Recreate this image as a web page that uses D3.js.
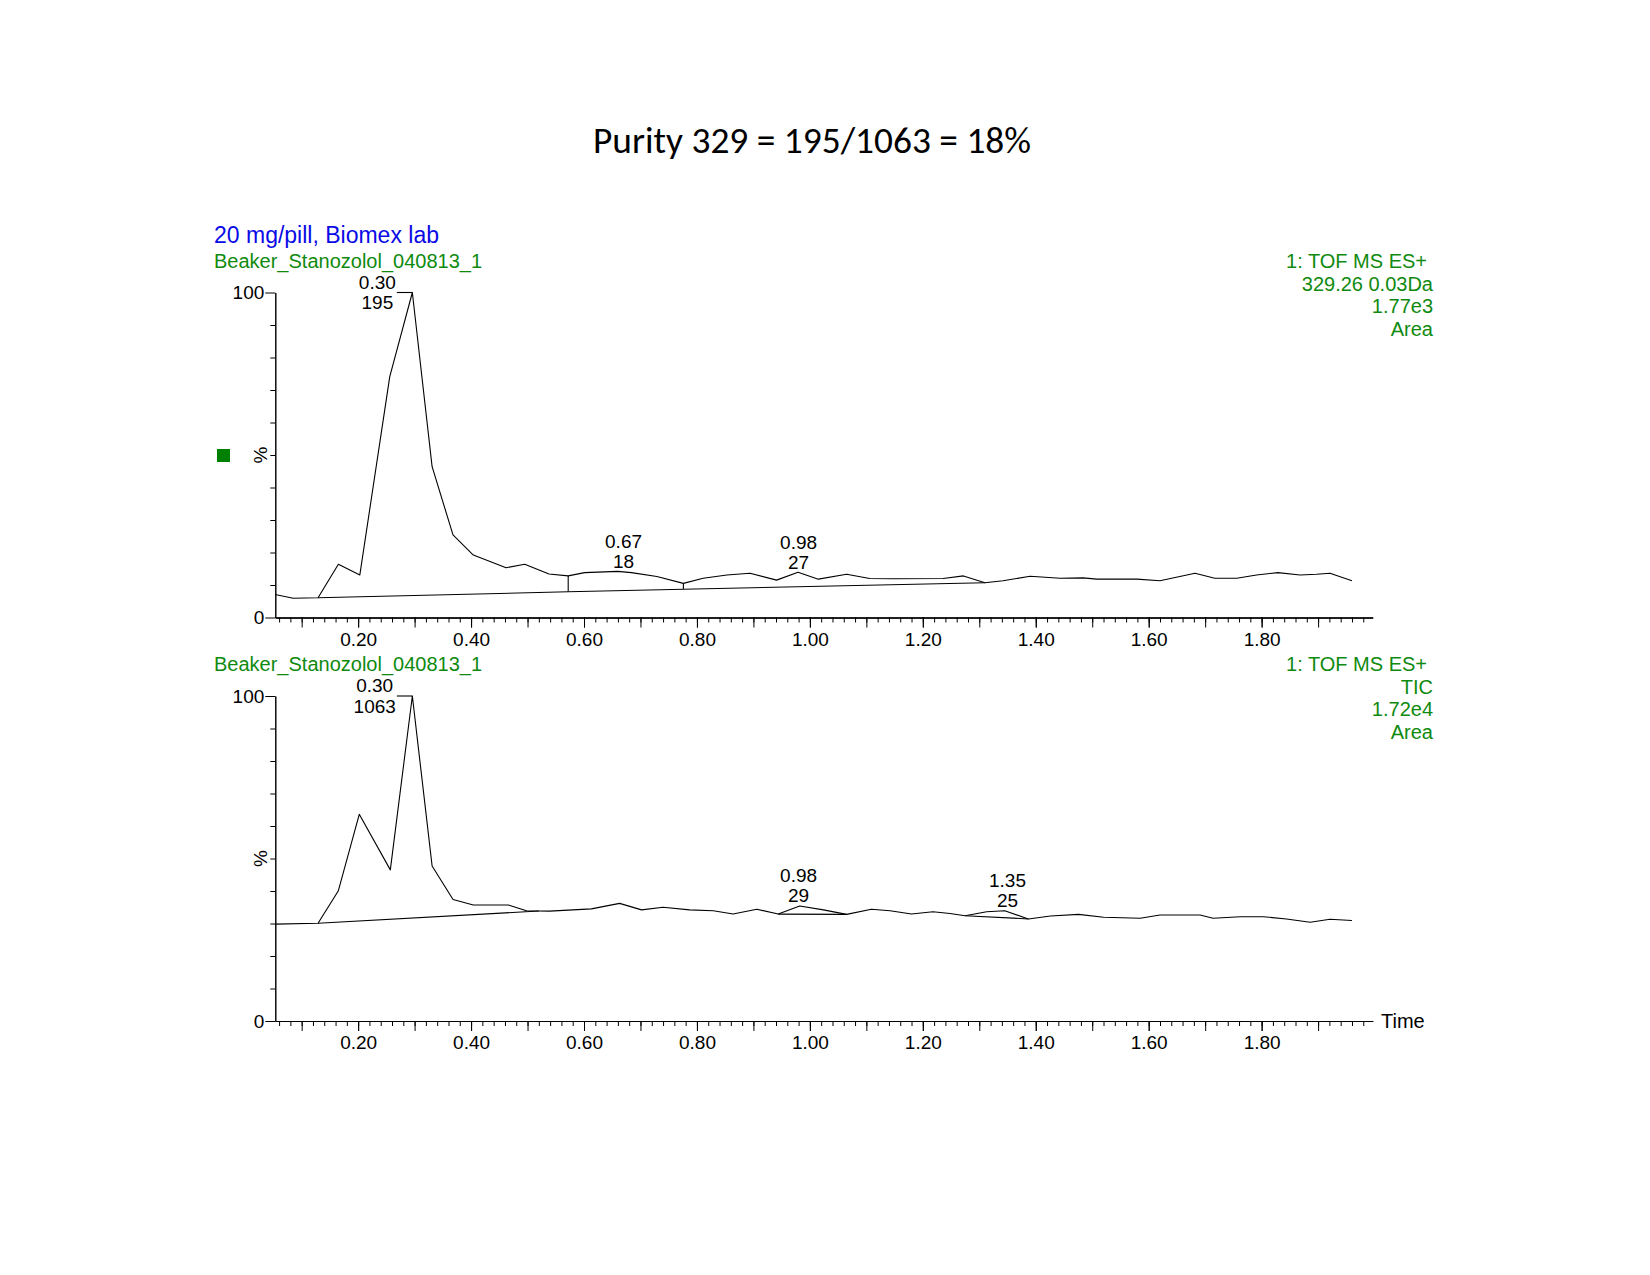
<!DOCTYPE html>
<html><head><meta charset="utf-8">
<script src="https://cdn.jsdelivr.net/npm/d3@7"></script>
<style>body{margin:0;background:#fff}</style>
</head><body>
<svg id="chart" width="1650" height="1275"></svg>
<script>
// ---------------- data ----------------
const titleText = "Purity 329 = 195/1063 = 18%";
const sampleLabel = "20 mg/pill, Biomex lab";
const fileLabel = "Beaker_Stanozolol_040813_1";
const topInfo = ["1: TOF MS ES+", "329.26 0.03Da", "1.77e3", "Area"];
const bottomInfo = ["1: TOF MS ES+", "TIC", "1.72e4", "Area"];
const xAxisTitle = "Time";
const yAxisTitle = "%";
const xTickLabels = ["0.20","0.40","0.60","0.80","1.00","1.20","1.40","1.60","1.80"];
const yTickLabels = ["0","100"];

// upper trace: 329.26 extracted ion chromatogram (% of max)
const topTimes  = [0.053,0.085,0.129,0.165,0.203,0.256,0.296,0.331,0.368,0.404,0.462,0.495,0.538,0.572,0.601,0.660,0.684,0.729,0.776,0.811,0.853,0.894,0.941,0.979,1.015,1.065,1.106,1.148,1.236,1.272,1.310,1.342,1.390,1.443,1.484,1.508,1.579,1.620,1.682,1.717,1.756,1.791,1.829,1.868,1.897,1.921,1.960];
const topValues = [7.1,5.9,6.1,16.4,13.1,74.1,100,46.4,25.4,19.2,15.3,16.4,13.4,12.8,13.8,14.2,13.8,12.6,10.5,12.1,13.1,13.6,11.5,13.9,11.8,13.3,12.0,11.9,12.0,12.8,10.7,11.3,12.7,12.1,12.2,11.8,11.8,11.3,13.6,12.1,12.1,13.1,13.8,13.1,13.3,13.6,11.3];

// lower trace: TIC (% of max)
const bottomTimes  = [0.053,0.129,0.165,0.202,0.257,0.296,0.331,0.368,0.404,0.466,0.498,0.539,0.613,0.663,0.702,0.740,0.787,0.829,0.864,0.906,0.944,0.982,1.024,1.065,1.109,1.142,1.180,1.218,1.248,1.275,1.313,1.345,1.387,1.426,1.476,1.520,1.585,1.620,1.691,1.714,1.762,1.803,1.844,1.886,1.921,1.960];
const bottomValues = [29.8,30.1,40.1,63.6,46.5,100,47.7,37.4,35.7,35.7,33.9,33.8,34.5,36.2,34.2,35.0,34.2,33.9,32.9,34.4,32.9,35.4,34.2,32.8,34.4,33.9,32.9,33.6,33.1,32.4,33.6,33.9,31.4,32.3,32.8,31.9,31.6,32.6,32.6,31.6,32.1,32.1,31.4,30.4,31.3,30.9];

// integration baselines [startTime, startValue, endTime, endValue]
const topBaselines = [[0.129,6.1,0.572,7.9],[0.572,7.9,0.776,8.7],[0.776,8.7,1.310,10.7]];
const topDropTimes = [0.572, 0.776];
const bottomBaselines = [[0.129,30.1,0.52,33.85],[0.944,32.9,1.065,32.8],[1.275,32.4,1.387,31.4]];

// peak annotations
const topPeakTimes = ["0.30","0.67","0.98"];
const topPeakAreas = ["195","18","27"];
const bottomPeakTimes = ["0.30","0.98","1.35"];
const bottomPeakAreas = ["1063","29","25"];

// ---------------- drawing ----------------
const svg = d3.select("#chart");
svg.append("rect").attr("width",1650).attr("height",1275).attr("fill","#fff");
const FONT = "'Liberation Sans', Arial, Helvetica, sans-serif";
const GREEN = "#0f8a0f";

svg.append("text").attr("x",812).attr("y",153)
  .attr("text-anchor","middle")
  .attr("font-family","Carlito, Lato, 'Open Sans', sans-serif")
  .attr("font-size",36).attr("fill","#000")
  .attr("textLength",438).attr("lengthAdjust","spacingAndGlyphs")
  .text(titleText);

svg.append("text").attr("x",214).attr("y",243)
  .attr("font-family",FONT).attr("font-size",23).attr("fill","#0a0ae6")
  .text(sampleLabel);

const x = d3.scaleLinear().domain([0.0533, 1.9967]).range([275.3, 1372.7]);

const minorX = d3.range(3, 100).map(i => +(i*0.02).toFixed(2));
const majorX = d3.range(1, 20).map(i => +(i*0.1).toFixed(1));
const labelX = xTickLabels.map(Number);

function drawPanel(p) {
  const y = d3.scaleLinear().domain([0,100]).range([p.y0, p.y100]);
  const g = svg.append("g");

  // file label & info block
  g.append("text").attr("x",214).attr("y",p.labelY)
    .attr("font-family",FONT).attr("font-size",20).attr("fill",GREEN)
    .text(fileLabel);
  p.info.forEach((s,i) => {
    g.append("text").attr("x", i===0 ? 1427 : 1433).attr("y", p.labelY + i*22.5)
      .attr("text-anchor","end")
      .attr("font-family",FONT).attr("font-size",20).attr("fill",GREEN)
      .text(s);
  });

  // x axes
  const axMinor = d3.axisBottom(x).tickValues(minorX).tickSize(5).tickSizeOuter(0).tickFormat("");
  const axMajor = d3.axisBottom(x).tickValues(majorX).tickSize(10).tickSizeOuter(0).tickFormat("");
  const axLab = d3.axisBottom(x).tickValues(labelX).tickSize(10).tickSizeOuter(0).tickPadding(5)
     .tickFormat((d,i) => xTickLabels[i]);
  [axMinor, axMajor, axLab].forEach(ax => {
    const a = g.append("g").attr("transform",`translate(0,${p.y0})`).call(ax);
    a.select(".domain").attr("stroke","#000");
    a.selectAll("line").attr("stroke","#000").attr("stroke-width",1);
    a.selectAll("text").attr("font-family",FONT).attr("font-size",19).attr("fill","#000");
  });

  // y axes
  const ayMinor = d3.axisLeft(y).tickValues(d3.range(10,100,10)).tickSize(5).tickSizeOuter(0).tickFormat("");
  const ayMajor = d3.axisLeft(y).tickValues(yTickLabels.map(Number)).tickSize(10).tickSizeOuter(0).tickPadding(1)
     .tickFormat((d,i) => yTickLabels[i]);
  [ayMinor, ayMajor].forEach(ax => {
    const a = g.append("g").attr("transform",`translate(${x.range()[0]},0)`).call(ax);
    a.select(".domain").attr("stroke","#000");
    a.selectAll("line").attr("stroke","#000").attr("stroke-width",1);
    a.selectAll("text").attr("font-family",FONT).attr("font-size",19).attr("fill","#000");
  });

  g.append("text")
    .attr("transform",`translate(260.5,${y(50)}) rotate(-90)`)
    .attr("text-anchor","middle").attr("dominant-baseline","central")
    .attr("font-family",FONT).attr("font-size",19).attr("fill","#000")
    .text(yAxisTitle);

  // trace
  const pts = p.times.map((t,i) => [t, p.values[i]]);
  const line = d3.line().x(d => x(d[0])).y(d => y(d[1]));
  g.append("path").datum(pts).attr("d",line)
    .attr("fill","none").attr("stroke","#000").attr("stroke-width",1.1).attr("stroke-linejoin","round");

  // baselines
  p.baselines.forEach(b => {
    g.append("path").datum([[b[0],b[1]],[b[2],b[3]]]).attr("d",line)
      .attr("fill","none").attr("stroke","#000").attr("stroke-width",1.1);
  });
  // drop lines
  (p.drops || []).forEach(t => {
    const i = p.times.findIndex(v => Math.abs(v - t) < 1e-6);
    const b = p.baselines.find(bb => Math.abs(bb[2]-t) < 1e-6);
    g.append("path").datum([[t, p.values[i]],[t, b[3]]]).attr("d",line)
      .attr("fill","none").attr("stroke","#000").attr("stroke-width",1.1);
  });

  // peak labels
  p.peakTimes.forEach((rt,k) => {
    const t = +rt;
    const area = p.peakAreas[k];
    const idxMax = d3.maxIndex(p.values);
    if (p.values[idxMax] === 100 && Math.abs(p.times[idxMax]-t) < 0.02) {
      // apex label with leader line
      const ax = x(p.times[idxMax]);
      const right = ax - 16.5;
      const t1 = g.append("text").attr("font-family",FONT).attr("font-size",19).attr("text-anchor","middle").text(rt);
      const t2 = g.append("text").attr("font-family",FONT).attr("font-size",19).attr("text-anchor","middle").text(area);
      const w = Math.max(t1.node().getComputedTextLength(), t2.node().getComputedTextLength());
      const cx = right - w/2;
      t1.attr("x",cx).attr("y",y(100)-4);
      t2.attr("x",cx).attr("y",y(100)+16.5);
      g.append("path").datum([[x.invert(right+1),100],[p.times[idxMax],100]]).attr("d",line)
        .attr("fill","none").attr("stroke","#000").attr("stroke-width",1.1);
    } else {
      const near = p.times.map((tt,i)=>[tt,p.values[i]]).filter(d => Math.abs(d[0]-t) < 0.025);
      const apex = d3.max(near, d => d[1]);
      const by = y(apex) - 3.5;
      g.append("text").attr("x",x(t)).attr("y",by-20).attr("text-anchor","middle")
        .attr("font-family",FONT).attr("font-size",19).attr("fill","#000").text(rt);
      g.append("text").attr("x",x(t)).attr("y",by).attr("text-anchor","middle")
        .attr("font-family",FONT).attr("font-size",19).attr("fill","#000").text(area);
    }
  });
}

drawPanel({y0:617.5, y100:292.5, labelY:268, info:topInfo,
  times:topTimes, values:topValues, baselines:topBaselines, drops:topDropTimes,
  peakTimes:topPeakTimes, peakAreas:topPeakAreas});
drawPanel({y0:1021, y100:696, labelY:671, info:bottomInfo,
  times:bottomTimes, values:bottomValues, baselines:bottomBaselines, drops:[],
  peakTimes:bottomPeakTimes, peakAreas:bottomPeakAreas});

// green marker square (upper trace)
svg.append("rect").attr("x",217).attr("y",449).attr("width",13).attr("height",13).attr("fill","#008000");

// time axis title
svg.append("text").attr("x",1381).attr("y",1027.5)
  .attr("font-family",FONT).attr("font-size",20).attr("fill","#000").text(xAxisTitle);
</script>
</body></html>
